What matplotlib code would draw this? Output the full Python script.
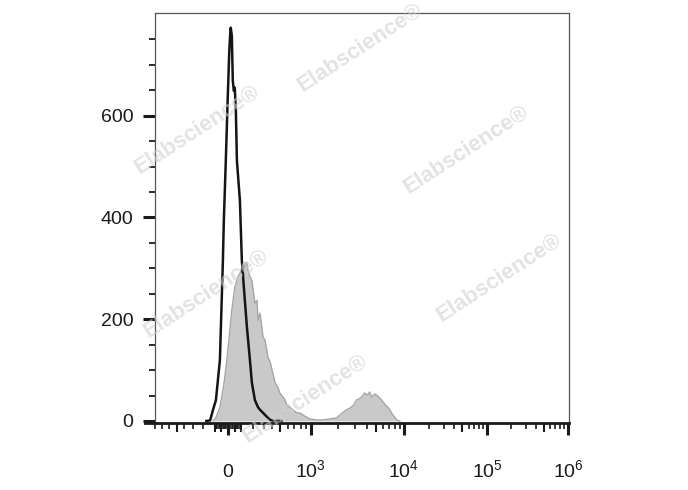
import numpy as np
import matplotlib.pyplot as plt

plt.rcParams['font.family'] = ['Liberation Sans', 'DejaVu Sans']
plt.rcParams['mathtext.fontset'] = 'custom'
plt.rcParams['mathtext.rm'] = 'Liberation Sans'
plt.rcParams['mathtext.it'] = 'Liberation Sans:italic'

# isotype control (black outline)
ctrl_x = [-170, -138, -114, -91, -60, -37, -30, -15, 0, 11, 19, 22, 30, 37, 45, 52,
          60, 68, 91, 106, 130, 147, 172, 189, 216, 245, 264, 295, 337, 374, 435, 520]
ctrl_counts = [0, 1, 22, 41, 120, 316, 394, 512, 639, 727, 767, 773, 757, 669, 649, 655,
               610, 512, 433, 316, 237, 184, 120, 75, 41, 27, 22, 16, 8, 2, 0, 0]

# stained sample (grey filled)
stain_x = [-114, -91, -60, -30, -7, 15, 30, 52, 75, 91, 106, 122, 130, 147, 155, 172,
           189, 216, 235, 245, 264, 295, 316, 349, 374, 397, 435, 476, 500, 540, 566,
           591, 632, 675, 736, 785, 871, 975, 1160, 1346, 1600, 1904, 2210, 2440, 2630,
           2900, 3120, 3450, 3810, 4100, 4310, 4530, 4880, 5120, 5520, 5800, 6250, 6730,
           7070, 7620, 8410, 9050]
stain_counts = [0, 6, 27, 71, 120, 178, 218, 263, 282, 290, 300, 286, 310, 312, 296, 284,
                276, 231, 237, 198, 212, 165, 159, 125, 116, 100, 75, 65, 55, 47, 41,
                31, 27, 22, 16, 16, 10, 4, 2, 2, 4, 6, 16, 22, 25,
                31, 41, 45, 55, 51, 57, 47, 53, 51, 45, 41, 33, 27,
                22, 12, 2, 0]

x_major = [0, 1e3, 1e4, 1e5, 1e6]
x_labels = ['0', '$10^3$', '$10^4$', '$10^5$', '$10^6$']
y_major = [0, 200, 400, 600]

# biexponential-like axis: value -> screen position anchors
W = 300
anchor_vals = np.array([-1e4, -1000, -500, 0, 500, 1000, 1e4, 1e5, 1e6, 1e7])
anchor_pos = np.array([52, 145, 177, 228, 280, 311, 404, 487, 568, 649], dtype=float)
anchor_u = np.arcsinh(anchor_vals / W)


def fwd(x):
    return np.interp(np.arcsinh(np.asarray(x, dtype=float) / W), anchor_u, anchor_pos)


def inv(p):
    return W * np.sinh(np.interp(np.asarray(p, dtype=float), anchor_pos, anchor_u))


fig = plt.figure(figsize=(6.88, 4.90), dpi=100)
ax = fig.add_axes([155 / 688, 67 / 490, 414 / 688, 410 / 490])
ax.set_xscale('function', functions=(fwd, inv))

ax.fill_between(stain_x, stain_counts, color='#c9c9c9', lw=0, zorder=1)
ax.plot(stain_x, stain_counts, color='#a6a6a6', lw=1.0, zorder=2)
ax.plot(ctrl_x, ctrl_counts, color='#141414', lw=1.8, zorder=3)

ax.set_xlim(-807, 1.029e6)
ax.set_ylim(-4, 802)

# ticks
minor_x = [-800, -700, -600, -400, -300, -200]
minor_x += [v for v in range(-90, 100, 10) if v not in (0, -50, 50)]
minor_x += [200, 300, 400, 600, 700, 800, 900]
for dec in (1e3, 1e4, 1e5):
    minor_x += [k * dec for k in (2, 3, 4, 6, 7, 8, 9)]
medium_x = [-500, -100, -50, 50, 100, 500, 5e3, 5e4, 5e5]

ax.set_xticks(x_major)
ax.set_xticklabels(x_labels)
ax.set_xticks(minor_x, minor=True)
ax.set_yticks(y_major)
ax.set_yticks(np.arange(50, 800, 50), minor=True)

ax.tick_params(axis='x', which='major', length=8.6, width=2.2, color='#1a1a1a',
               labelsize=14, pad=30)
ax.tick_params(axis='x', which='minor', length=4, width=1.2, color='#1a1a1a')
ax.tick_params(axis='y', which='major', length=8.5, width=2.2, color='#1a1a1a',
               labelsize=14, pad=7)
ax.tick_params(axis='y', which='minor', length=4, width=1.3, color='#1a1a1a')
for t in ax.get_xticklabels():
    t.set_verticalalignment('baseline')
    t.set_color('#1a1a1a')
for t in ax.get_yticklabels():
    t.set_color('#1a1a1a')

# medium length ticks
ax.plot(medium_x, [0] * len(medium_x), ls='none', marker=3, markersize=6.5,
        mew=1.5, color='#1a1a1a', transform=ax.get_xaxis_transform(), clip_on=False)

for side in ('left', 'top', 'right'):
    ax.spines[side].set_color('#555555')
    ax.spines[side].set_linewidth(0.9)
ax.spines['bottom'].set_color('#1a1a1a')
ax.spines['bottom'].set_linewidth(2.0)
ax.plot([-0.025, 0], [0, 0], color='#1a1a1a', lw=2.0,
        transform=ax.transAxes, clip_on=False)

# watermark
marks = [(0.523, 0.903), (0.286, 0.735), (0.677, 0.694),
         (0.300, 0.400), (0.725, 0.433), (0.443, 0.186)]
for mx, my in marks:
    fig.text(mx, my, 'Elabscience\u00ae', rotation=33, ha='center', va='center',
             fontsize=16, fontweight='bold', color='#d0d0d0', alpha=0.6)

fig.savefig('out.png', dpi=100)
